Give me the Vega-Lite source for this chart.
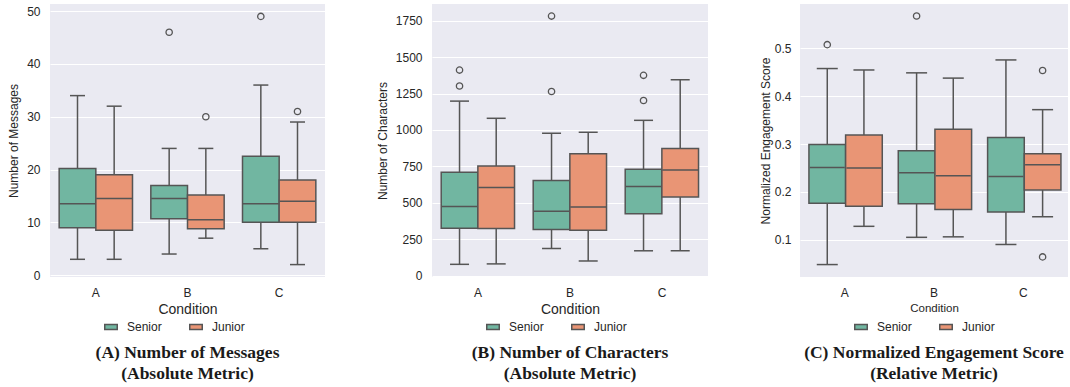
{
  "$schema": "https://vega.github.io/schema/vega-lite/v6.json",
  "padding": {"left": 7, "top": 4, "right": 0, "bottom": 0},
  "background": "white",
  "spacing": 51,
  "resolve": {"legend": {"color": "independent"}, "scale": {"color": "independent"}},
  "datasets": {
    "m_stats": [
      {"Condition": "A", "Group": "Senior", "low": 3, "q1": 9, "median": 13.5, "q3": 20.2, "high": 34},
      {"Condition": "A", "Group": "Junior", "low": 3, "q1": 8.5, "median": 14.5, "q3": 19, "high": 32},
      {"Condition": "B", "Group": "Senior", "low": 4, "q1": 10.7, "median": 14.5, "q3": 17, "high": 24},
      {"Condition": "B", "Group": "Junior", "low": 7, "q1": 8.8, "median": 10.5, "q3": 15.2, "high": 24},
      {"Condition": "C", "Group": "Senior", "low": 5, "q1": 10, "median": 13.5, "q3": 22.5, "high": 36},
      {"Condition": "C", "Group": "Junior", "low": 2, "q1": 10, "median": 14, "q3": 18, "high": 29}
    ],
    "m_out": [
      {"Condition": "B", "Group": "Senior", "value": 46},
      {"Condition": "B", "Group": "Junior", "value": 30},
      {"Condition": "C", "Group": "Senior", "value": 49},
      {"Condition": "C", "Group": "Junior", "value": 31}
    ],
    "c_stats": [
      {"Condition": "A", "Group": "Senior", "low": 77, "q1": 325, "median": 475, "q3": 709, "high": 1198},
      {"Condition": "A", "Group": "Junior", "low": 80, "q1": 323, "median": 605, "q3": 752, "high": 1080},
      {"Condition": "B", "Group": "Senior", "low": 186, "q1": 316, "median": 441, "q3": 652, "high": 977},
      {"Condition": "B", "Group": "Junior", "low": 100, "q1": 311, "median": 470, "q3": 836, "high": 984},
      {"Condition": "C", "Group": "Senior", "low": 170, "q1": 425, "median": 611, "q3": 730, "high": 1066},
      {"Condition": "C", "Group": "Junior", "low": 170, "q1": 539, "median": 725, "q3": 873, "high": 1345}
    ],
    "c_out": [
      {"Condition": "A", "Group": "Senior", "value": 1411},
      {"Condition": "A", "Group": "Senior", "value": 1302},
      {"Condition": "B", "Group": "Senior", "value": 1782},
      {"Condition": "B", "Group": "Senior", "value": 1264},
      {"Condition": "C", "Group": "Senior", "value": 1375},
      {"Condition": "C", "Group": "Senior", "value": 1202}
    ],
    "e_stats": [
      {"Condition": "A", "Group": "Senior", "low": 0.048, "q1": 0.176, "median": 0.251, "q3": 0.299, "high": 0.458},
      {"Condition": "A", "Group": "Junior", "low": 0.128, "q1": 0.170, "median": 0.250, "q3": 0.319, "high": 0.455},
      {"Condition": "B", "Group": "Senior", "low": 0.105, "q1": 0.175, "median": 0.240, "q3": 0.286, "high": 0.449},
      {"Condition": "B", "Group": "Junior", "low": 0.106, "q1": 0.163, "median": 0.234, "q3": 0.331, "high": 0.438},
      {"Condition": "C", "Group": "Senior", "low": 0.090, "q1": 0.158, "median": 0.232, "q3": 0.314, "high": 0.476},
      {"Condition": "C", "Group": "Junior", "low": 0.148, "q1": 0.204, "median": 0.257, "q3": 0.280, "high": 0.372}
    ],
    "e_out": [
      {"Condition": "A", "Group": "Senior", "value": 0.508},
      {"Condition": "B", "Group": "Senior", "value": 0.568},
      {"Condition": "C", "Group": "Junior", "value": 0.454},
      {"Condition": "C", "Group": "Junior", "value": 0.064}
    ]
  },
  "config": {
    "font": "Liberation Sans",
    "view": {"fill": "#eaeaf2", "stroke": null},
    "axis": {
      "domain": false,
      "ticks": false,
      "labelFont": "Liberation Sans",
      "titleFont": "Liberation Sans",
      "labelFontSize": 12,
      "labelColor": "#262626",
      "titleColor": "#262626",
      "titleFontWeight": "normal",
      "gridColor": "white",
      "gridWidth": 1,
      "labelOverlap": false
    },
    "axisY": {"labelPadding": 10, "titleFontSize": 12, "titlePadding": 6},
    "axisX": {"labelPadding": 10, "labelAngle": 0, "titleFontSize": 14, "titlePadding": 4, "grid": false},
    "legend": {
      "orient": "none",
      "legendX": 55,
      "legendY": 317,
      "direction": "horizontal",
      "title": null,
      "labelFont": "Liberation Sans",
      "labelFontSize": 12,
      "labelColor": "#262626",
      "symbolType": "M-1.25,-0.5H1.25V0.5H-1.25Z",
      "symbolSize": 100,
      "symbolStrokeColor": "#555555",
      "symbolStrokeWidth": 1.5,
      "symbolOpacity": 1,
      "labelOffset": 10,
      "columnPadding": 24
    },
    "title": {
      "orient": "bottom",
      "font": "Liberation Serif",
      "fontSize": 17.5,
      "fontWeight": "bold",
      "color": "#1a1a1a",
      "lineHeight": 21,
      "offset": 11
    }
  },
  "hconcat": [
    {
      "width": 275,
      "height": 273,
      "title": {"text": ["(A) Number of Messages", "(Absolute Metric)"]},
      "data": {"name": "m_stats"},
      "encoding": {
        "x": {"field": "Condition", "type": "nominal", "scale": {"paddingInner": 0.2, "paddingOuter": 0.1}, "title": "Condition"},
        "xOffset": {"field": "Group", "type": "nominal", "sort": ["Senior", "Junior"]}
      },
      "layer": [
        {
          "mark": {"type": "rule", "color": "#555555", "strokeWidth": 1.5},
          "encoding": {
            "y": {"field": "low", "type": "quantitative", "scale": {"domain": [-0.35, 51.35], "nice": false, "zero": false}, "axis": {"values": [0, 10, 20, 30, 40, 50]}, "title": "Number of Messages"},
            "y2": {"field": "high"}
          }
        },
        {
          "mark": {"type": "bar", "stroke": "#555555", "strokeWidth": 1.5, "opacity": 1},
          "encoding": {
            "y": {"field": "q1", "type": "quantitative", "scale": {"domain": [-0.35, 51.35], "nice": false, "zero": false}, "axis": {"values": [0, 10, 20, 30, 40, 50]}, "title": "Number of Messages"},
            "y2": {"field": "q3"},
            "color": {"field": "Group", "type": "nominal", "sort": ["Senior", "Junior"], "scale": {"domain": ["Senior", "Junior"], "range": ["#71b6a1", "#e99575"]}}
          }
        },
        {
          "mark": {"type": "tick", "color": "#555555", "thickness": 1.5, "size": 36, "opacity": 1},
          "encoding": {
            "y": {"field": "median", "type": "quantitative", "scale": {"domain": [-0.35, 51.35], "nice": false, "zero": false}, "axis": {"values": [0, 10, 20, 30, 40, 50]}, "title": "Number of Messages"}
          }
        },
        {
          "mark": {"type": "tick", "color": "#555555", "thickness": 1.5, "size": 15, "opacity": 1},
          "encoding": {
            "y": {"field": "low", "type": "quantitative", "scale": {"domain": [-0.35, 51.35], "nice": false, "zero": false}, "axis": {"values": [0, 10, 20, 30, 40, 50]}, "title": "Number of Messages"}
          }
        },
        {
          "mark": {"type": "tick", "color": "#555555", "thickness": 1.5, "size": 15, "opacity": 1},
          "encoding": {
            "y": {"field": "high", "type": "quantitative", "scale": {"domain": [-0.35, 51.35], "nice": false, "zero": false}, "axis": {"values": [0, 10, 20, 30, 40, 50]}, "title": "Number of Messages"}
          }
        },
        {
          "data": {"name": "m_out"},
          "mark": {"type": "point", "filled": false, "stroke": "#555555", "strokeWidth": 1.3, "size": 40, "opacity": 1},
          "encoding": {
            "y": {"field": "value", "type": "quantitative", "scale": {"domain": [-0.35, 51.35], "nice": false, "zero": false}, "axis": {"values": [0, 10, 20, 30, 40, 50]}, "title": "Number of Messages"}
          }
        }
      ]
    },
    {
      "width": 276,
      "height": 273,
      "title": {"text": ["(B) Number of Characters", "(Absolute Metric)"]},
      "data": {"name": "c_stats"},
      "encoding": {
        "x": {"field": "Condition", "type": "nominal", "scale": {"paddingInner": 0.2, "paddingOuter": 0.1}, "title": "Condition"},
        "xOffset": {"field": "Group", "type": "nominal", "sort": ["Senior", "Junior"]}
      },
      "layer": [
        {
          "mark": {"type": "rule", "color": "#555555", "strokeWidth": 1.5},
          "encoding": {
            "y": {"field": "low", "type": "quantitative", "scale": {"domain": [-10, 1865], "nice": false, "zero": false}, "axis": {"values": [0, 250, 500, 750, 1000, 1250, 1500, 1750], "format": "d"}, "title": "Number of Characters"},
            "y2": {"field": "high"}
          }
        },
        {
          "mark": {"type": "bar", "stroke": "#555555", "strokeWidth": 1.5, "opacity": 1},
          "encoding": {
            "y": {"field": "q1", "type": "quantitative", "scale": {"domain": [-10, 1865], "nice": false, "zero": false}, "axis": {"values": [0, 250, 500, 750, 1000, 1250, 1500, 1750], "format": "d"}, "title": "Number of Characters"},
            "y2": {"field": "q3"},
            "color": {"field": "Group", "type": "nominal", "sort": ["Senior", "Junior"], "scale": {"domain": ["Senior", "Junior"], "range": ["#71b6a1", "#e99575"]}}
          }
        },
        {
          "mark": {"type": "tick", "color": "#555555", "thickness": 1.5, "size": 36, "opacity": 1},
          "encoding": {
            "y": {"field": "median", "type": "quantitative", "scale": {"domain": [-10, 1865], "nice": false, "zero": false}, "axis": {"values": [0, 250, 500, 750, 1000, 1250, 1500, 1750], "format": "d"}, "title": "Number of Characters"}
          }
        },
        {
          "mark": {"type": "tick", "color": "#555555", "thickness": 1.5, "size": 19, "opacity": 1},
          "encoding": {
            "y": {"field": "low", "type": "quantitative", "scale": {"domain": [-10, 1865], "nice": false, "zero": false}, "axis": {"values": [0, 250, 500, 750, 1000, 1250, 1500, 1750], "format": "d"}, "title": "Number of Characters"}
          }
        },
        {
          "mark": {"type": "tick", "color": "#555555", "thickness": 1.5, "size": 19, "opacity": 1},
          "encoding": {
            "y": {"field": "high", "type": "quantitative", "scale": {"domain": [-10, 1865], "nice": false, "zero": false}, "axis": {"values": [0, 250, 500, 750, 1000, 1250, 1500, 1750], "format": "d"}, "title": "Number of Characters"}
          }
        },
        {
          "data": {"name": "c_out"},
          "mark": {"type": "point", "filled": false, "stroke": "#555555", "strokeWidth": 1.3, "size": 40, "opacity": 1},
          "encoding": {
            "y": {"field": "value", "type": "quantitative", "scale": {"domain": [-10, 1865], "nice": false, "zero": false}, "axis": {"values": [0, 250, 500, 750, 1000, 1250, 1500, 1750], "format": "d"}, "title": "Number of Characters"}
          }
        }
      ]
    },
    {
      "width": 268,
      "height": 273,
      "title": {"text": ["(C) Normalized Engagement Score", "(Relative Metric)"]},
      "data": {"name": "e_stats"},
      "encoding": {
        "x": {"field": "Condition", "type": "nominal", "scale": {"paddingInner": 0.2, "paddingOuter": 0.1}, "title": "Condition", "axis": {"titleFontSize": 11.5}},
        "xOffset": {"field": "Group", "type": "nominal", "sort": ["Senior", "Junior"]}
      },
      "layer": [
        {
          "mark": {"type": "rule", "color": "#555555", "strokeWidth": 1.5},
          "encoding": {
            "y": {"field": "low", "type": "quantitative", "scale": {"domain": [0.022, 0.593], "nice": false, "zero": false}, "axis": {"values": [0.1, 0.2, 0.3, 0.4, 0.5], "format": ".1f", "titlePadding": 2, "labelPadding": 9}, "title": "Normalized Engagement Score"},
            "y2": {"field": "high"}
          }
        },
        {
          "mark": {"type": "bar", "stroke": "#555555", "strokeWidth": 1.5, "opacity": 1},
          "encoding": {
            "y": {"field": "q1", "type": "quantitative", "scale": {"domain": [0.022, 0.593], "nice": false, "zero": false}, "axis": {"values": [0.1, 0.2, 0.3, 0.4, 0.5], "format": ".1f", "titlePadding": 2, "labelPadding": 9}, "title": "Normalized Engagement Score"},
            "y2": {"field": "q3"},
            "color": {"field": "Group", "type": "nominal", "sort": ["Senior", "Junior"], "scale": {"domain": ["Senior", "Junior"], "range": ["#71b6a1", "#e99575"]}}
          }
        },
        {
          "mark": {"type": "tick", "color": "#555555", "thickness": 1.5, "size": 35, "opacity": 1},
          "encoding": {
            "y": {"field": "median", "type": "quantitative", "scale": {"domain": [0.022, 0.593], "nice": false, "zero": false}, "axis": {"values": [0.1, 0.2, 0.3, 0.4, 0.5], "format": ".1f", "titlePadding": 2, "labelPadding": 9}, "title": "Normalized Engagement Score"}
          }
        },
        {
          "mark": {"type": "tick", "color": "#555555", "thickness": 1.5, "size": 21, "opacity": 1},
          "encoding": {
            "y": {"field": "low", "type": "quantitative", "scale": {"domain": [0.022, 0.593], "nice": false, "zero": false}, "axis": {"values": [0.1, 0.2, 0.3, 0.4, 0.5], "format": ".1f", "titlePadding": 2, "labelPadding": 9}, "title": "Normalized Engagement Score"}
          }
        },
        {
          "mark": {"type": "tick", "color": "#555555", "thickness": 1.5, "size": 21, "opacity": 1},
          "encoding": {
            "y": {"field": "high", "type": "quantitative", "scale": {"domain": [0.022, 0.593], "nice": false, "zero": false}, "axis": {"values": [0.1, 0.2, 0.3, 0.4, 0.5], "format": ".1f", "titlePadding": 2, "labelPadding": 9}, "title": "Normalized Engagement Score"}
          }
        },
        {
          "data": {"name": "e_out"},
          "mark": {"type": "point", "filled": false, "stroke": "#555555", "strokeWidth": 1.3, "size": 40, "opacity": 1},
          "encoding": {
            "y": {"field": "value", "type": "quantitative", "scale": {"domain": [0.022, 0.593], "nice": false, "zero": false}, "axis": {"values": [0.1, 0.2, 0.3, 0.4, 0.5], "format": ".1f", "titlePadding": 2, "labelPadding": 9}, "title": "Normalized Engagement Score"}
          }
        }
      ]
    }
  ]
}
